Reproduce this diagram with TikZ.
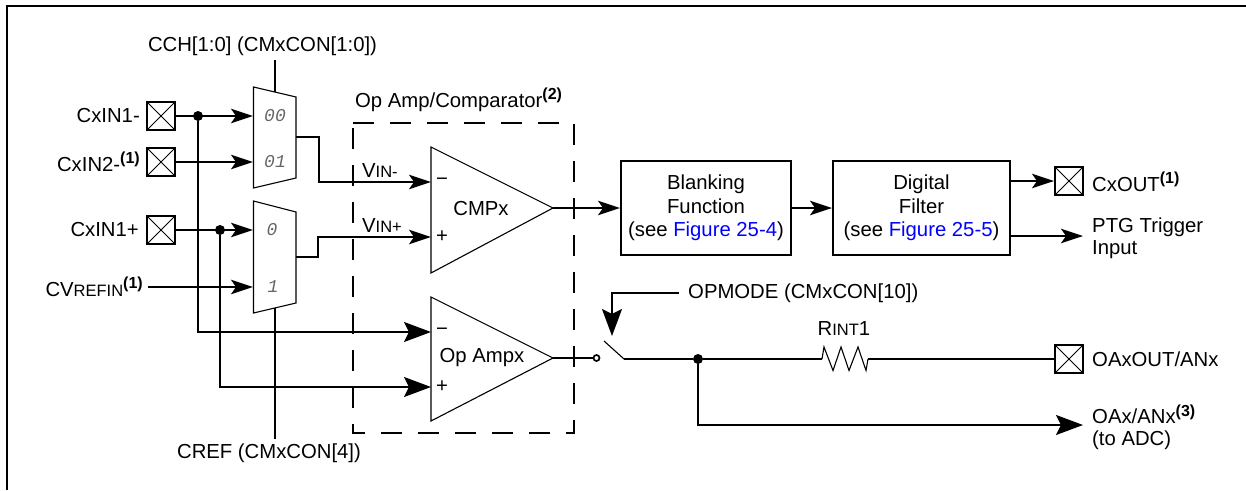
\documentclass[tikz,border=0pt]{standalone}
\usepackage{fontspec}
\setmainfont{Liberation Sans}
\newfontfamily\muxfont{Liberation Mono}
\usetikzlibrary{positioning,calc,arrows.meta}

\definecolor{linkblue}{RGB}{0,0,255}
\newcommand{\noteref}[1]{\raisebox{0.38em}{\fontsize{16}{16}\selectfont\bfseries(#1)}}
\newcommand{\lowtext}[1]{{\fontsize{16.5}{16.5}\selectfont #1}}

\tikzset{
	lab/.style={inner sep=0pt,font=\fontsize{20.3}{21.5}\selectfont},
	padbox/.style={draw,line width=2pt,minimum size=28pt,inner sep=0pt,
		path picture={
			\draw[line width=1pt] (path picture bounding box.north west) -- (path picture bounding box.south east);
			\draw[line width=1pt] (path picture bounding box.north east) -- (path picture bounding box.south west);
		}},
	funcbox/.style={draw,line width=2pt,minimum height=94pt,inner sep=0pt,align=center,
		font=\fontsize{20.3}{23.5}\selectfont},
	muxlab/.style={inner sep=0pt,text=black!60,font=\muxfont\itshape\fontsize{18}{18}\selectfont},
	wire/.style={line width=1.7pt},
	sarrow/.style={wire,-{Stealth[length=22pt,width=14.5pt,inset=5pt]}},
	barrow/.style={wire,-{Stealth[length=27pt,width=20pt,inset=5pt]}},
	thinshape/.style={line width=1.1pt},
	dot/.style={circle,fill=black,inner sep=0pt,minimum size=10pt},
}

\begin{document}
\begin{tikzpicture}[x=1pt,y=-1pt]
	\useasboundingbox (0,0) rectangle (1246,490);

	% frame
	\draw[line width=2.2pt] (7,490) -- (7,6) -- (1246,6);

	% pads
	\node[padbox] (in1m) at (161,116) {};
	\node[padbox] (in2m) at (161,162) {};
	\node[padbox] (in1p) at (161,230) {};
	\node[padbox] (cxout) at (1069,181) {};
	\node[padbox] (oaout) at (1069,359) {};

	\node[lab,left=6pt of in1m] (in1mlab) {CxIN1-};
	\node[lab,left=6pt of in2m] (in2mlab) {CxIN2-\noteref{1}};
	\node[lab,left=7pt of in1p] (in1plab) {CxIN1+};
	\node[lab,anchor=east] (vreflab) at (143,287) {CV\lowtext{REFIN}\noteref{1}};
	\node[lab,anchor=west] (cxoutlab) at (1092,182) {CxOUT\noteref{1}};
	\node[lab,anchor=west] (oaoutlab) at (1092,359) {OAxOUT/ANx};

	% multiplexers
	\draw[thinshape] (253.5,87) -- (296,97) -- (296,178) -- (253.5,188) -- cycle;
	\draw[thinshape] (253.5,201) -- (296,212) -- (296,303) -- (253.5,313) -- cycle;
	\node[muxlab] (m00) at (275,116) {00};
	\node[muxlab] (m01) at (275,162) {01};
	\node[muxlab] (m0) at (272,230) {0};
	\node[muxlab] (m1) at (273,287) {1};
	\coordinate (m00in) at (253,116);
	\coordinate (m01in) at (253,162);
	\coordinate (m0in) at (253,230);
	\coordinate (m1in) at (253,287);

	\node[lab] (cch) at (262.5,46) {CCH[1:0] (CMxCON[1:0])};
	\node[lab] (cref) at (269,453) {CREF (CMxCON[4])};
	\draw[line width=2.6pt] (275,60) -- (275,92);
	\draw[wire] (275,308) -- (275,439);

	% op amp block
	\node[lab,anchor=west] (oplab) at (355,100) {Op Amp/Comparator\noteref{2}};
	\draw[line width=1.6pt,dash pattern=on 21pt off 16pt] (353,123) -- (574,123) -- (574,433) -- (353,433) -- cycle;

	\draw[thinshape] (431,147) -- (553,208) -- (431,273) -- cycle;
	\draw[thinshape] (431,297) -- (553,358) -- (431,421) -- cycle;
	\node[lab] (cmpx) at (481,209) {CMPx};
	\node[lab] (ampx) at (482,358) {Op Ampx};
	\foreach \name/\sign/\ypos in {am/−/182,ap/+/237,bm/−/332,bp/+/387}
		\node[lab] (\name) at (442,\ypos) {\sign};
	\node[lab,anchor=west] (vinm) at (362,171) {V\lowtext{IN-}};
	\node[lab,anchor=west] (vinp) at (362,226) {V\lowtext{IN+}};

	\coordinate (cmpm) at (431,182);
	\coordinate (cmpp) at (431,237);
	\coordinate (ampm) at (431,332);
	\coordinate (ampp) at (431,387);
	\coordinate (cmpout) at (553,208);
	\coordinate (ampout) at (553,358);

	% function boxes
	\node[funcbox,minimum width=170pt] (blank) at (706,208) {Blanking\\Function\\(see \textcolor{linkblue}{Figure 25-4})};
	\node[funcbox,minimum width=177pt] (filt) at (921.5,208) {Digital\\Filter\\(see \textcolor{linkblue}{Figure 25-5})};

	\node[lab,anchor=west,align=left] (ptg) at (1092,238) {PTG Trigger\\Input};
	\node[lab,anchor=west,align=left] (adc) at (1092,427) {OAx/ANx\noteref{3}\\(to ADC)};
	\coordinate (ptgend) at (1083,236);
	\coordinate (adcend) at (1083,425);

	% junctions
	\node[dot] (j1) at (198,116) {};
	\node[dot] (j2) at (220,230) {};
	\node[dot] (j3) at (698,359) {};

	\draw[sarrow] (in1m) -- (m00in);
	\draw[sarrow] (in2m) -- (m01in);
	\draw[sarrow] (in1p) -- (m0in);
	\draw[sarrow] (148,287) -- (m1in);
	\draw[barrow] (j1) |- (ampm);
	\draw[barrow] (j2) |- (ampp);
	\draw[sarrow] (296,137) -- (319,137) -- (319,182) -- (cmpm);
	\draw[sarrow] (296,257) -- (318,257) -- (318,237) -- (cmpp);
	\draw[sarrow] (cmpout) -- (blank);
	\draw[sarrow] (blank) -- (filt);
	\draw[sarrow] (filt.east |- cxout) -- (cxout);
	\draw[sarrow] (filt.east |- ptgend) -- (ptgend);

	% switch and resistor
	\node[draw,circle,wire,fill=white,inner sep=0pt,minimum size=6pt] (swin) at (596.5,358) {};
	\draw[wire] (ampout) -- (swin);
	\coordinate (swout) at (624,359);
	\draw[thinshape] (604,341) -- (swout);
	\node[lab,anchor=west] (opmode) at (688,293) {OPMODE (CMxCON[10])};
	\draw[barrow] (679,293) -- (612,293) -- (612,336);
	\node[lab] (rint) at (844,329) {R\lowtext{INT}1};
	\coordinate (ra) at (822,359);
	\coordinate (rb) at (868,359);
	\draw[wire] (swout) -- (j3) -- (ra);
	\draw[thinshape] (ra) -- (824,347) -- (833,370.5) -- (841,347) -- (849,370.5) -- (858,347) -- (866,370.5) -- (rb);
	\draw[wire] (rb) -- (oaout);
	\draw[barrow] (j3) |- (adcend);
\end{tikzpicture}
\end{document}
